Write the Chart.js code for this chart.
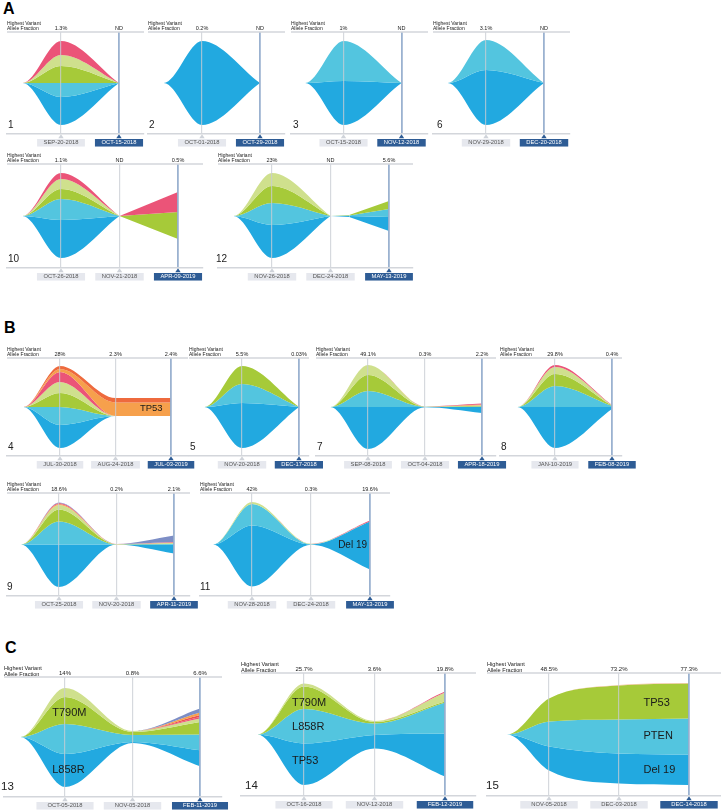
<!DOCTYPE html>
<html>
<head>
<meta charset="utf-8">
<title>Fish plots</title>
<script src="https://cdn.jsdelivr.net/npm/chart.js@4.4.1/dist/chart.umd.min.js"></script>
<style>
  html, body { margin:0; padding:0; background:#ffffff; }
  body { width:721px; height:811px; position:relative; overflow:hidden; font-family:'Liberation Sans', Arial, sans-serif; }
  canvas { position:absolute; }
  .sec { position:absolute; font-weight:bold; font-size:16px; line-height:16px; color:#000; }
</style>
</head>
<body>
<div class="sec" style="left:3px;top:1px">A</div>
<div class="sec" style="left:4px;top:320px">B</div>
<div class="sec" style="left:5px;top:640px">C</div>
<script>
const FONT = "'Liberation Sans', Arial, Helvetica, sans-serif";
Chart.defaults.font.family = FONT;

// clone colours
const BLUE = '#22a9e0', LBLUE = '#53c5df', GREEN = '#a6ca39', LGREEN = '#cfe08d',
      PINK = '#eb5478', ORANGE = '#f6a04c', DORANGE = '#ee6a3d', SLATE = '#7d8ec6',
      RED = '#ef4f4f', PEACH = '#f2b58a';

// ---------------- DATA ----------------
// x: sample index (0,1,2...), negative = before first sample (fish origin)
// edges: clone boundaries top -> bottom, offset from the fish midline
const P1_DATES = ['SEP-20-2018', 'OCT-15-2018'];
const P1_VAF = ['1.3%', 'ND'];
const P1_X = [[-0.95, -0.66, 0, 1]];
const P1_EDGES = [[[0,0,42,0],[0,0,28,0],[0,0,17,0],[0,0,0,0],[0,0,-14,0],[0,0,-42,0]]];
const P1_BANDS = [PINK, LGREEN, GREEN, LBLUE, BLUE];

const P2_DATES = ['OCT-01-2018', 'OCT-29-2018'];
const P2_VAF = ['0.2%', 'ND'];
const P2_X = [[-0.95, -0.66, 0, 1]];
const P2_EDGES = [[[0,0,42,0],[0,0,-42,0]]];
const P2_BANDS = [BLUE];

const P3_DATES = ['OCT-15-2018', 'NOV-12-2018'];
const P3_VAF = ['1%', 'ND'];
const P3_X = [[-0.95, -0.66, 0, 1]];
const P3_EDGES = [[[0,0,42,0],[0,0,2,0],[0,0,-42,0]]];
const P3_BANDS = [LBLUE, BLUE];

const P6_DATES = ['NOV-29-2018', 'DEC-20-2018'];
const P6_VAF = ['3.1%', 'ND'];
const P6_X = [[-0.95, -0.66, 0, 1]];
const P6_EDGES = [[[0,0,43,0],[0,0,13,0],[0,0,-42,0]]];
const P6_BANDS = [LBLUE, BLUE];

const P10_DATES = ['OCT-26-2018', 'NOV-21-2018', 'APR-09-2019'];
const P10_VAF = ['1.1%', 'ND', '0.5%'];
const P10_X = [[-0.95, -0.66, 0, 1], [1, 2]];
const P10_EDGES = [
  [[0,0,43,0],[0,0,37,0],[0,0,27,0],[0,0,17,0],[0,0,-4,0],[0,0,-42,0]],
  [[0,24],[0,4],[0,4],[0,-23],[0,-23],[0,-23]]
];
const P10_BANDS = [PINK, LGREEN, GREEN, LBLUE, BLUE];

const P12_DATES = ['NOV-26-2018', 'DEC-24-2018', 'MAY-13-2019'];
const P12_VAF = ['23%', 'ND', '5.6%'];
const P12_X = [[-0.95, -0.66, 0, 1], [1, 1.32], [1.32, 2]];
const P12_EDGES = [
  [[0,0,43,0],[0,0,30,0],[0,0,13,0],[0,0,-9,0],[0,0,-42,0]],
  [[0,1],[0,1],[0,0.5],[0,0],[0,-1]],
  [[1,15],[1,15],[0.5,7],[0,-1],[-1,-15]]
];
const P12_BANDS = [LGREEN, GREEN, LBLUE, BLUE];

const P4_DATES = ['JUL-30-2018', 'AUG-24-2018', 'JUL-03-2019'];
const P4_VAF = ['28%', '2.3%', '2.4%'];
const P4_X = [[-0.95, -0.66, 0, 1, 2]];
const P4_EDGES = [[[0,0,41,9,9],[0,0,38,4.5,4.5],[0,0,35,-9,-9],[0,0,25,-9,-9],[0,0,14,-9,-9],[0,0,0,-9,-9],[0,0,-18,-9,-9],[0,0,-41,-9,-9]]];
const P4_BANDS = [DORANGE, ORANGE, PINK, LGREEN, GREEN, LBLUE, BLUE];
const P4_LABELS = [['TP53', 1.44, -1]];

const P5_DATES = ['NOV-20-2018', 'DEC-17-2018'];
const P5_VAF = ['5.5%', '0.03%'];
const P5_X = [[-0.95, -0.66, 0, 1]];
const P5_EDGES = [[[0,0,41,0],[0,0,23,0],[0,0,4,0],[0,0,-41,0]]];
const P5_BANDS = [GREEN, LBLUE, BLUE];

const P7_DATES = ['SEP-08-2018', 'OCT-04-2018', 'APR-18-2019'];
const P7_VAF = ['49.1%', '0.3%', '2.2%'];
const P7_X = [[-0.95, -0.66, 0, 1, 2]];
const P7_EDGES = [[[0,0,42,0.6,3.5],[0,0,42,0.5,2.5],[0,0,42,0.4,1.8],[0,0,32,0.3,1.2],[0,0,16,0.2,0.6],[0,0,0,0,0],[0,0,-42,-0.3,-6]]];
const P7_BANDS = [PINK, ORANGE, LGREEN, GREEN, LBLUE, BLUE];

const P8_DATES = ['JAN-10-2019', 'FEB-08-2019'];
const P8_VAF = ['29.8%', '0.4%'];
const P8_X = [[-0.95, -0.66, 0, 1]];
const P8_EDGES = [[[0,0,42,2],[0,0,40,1.8],[0,0,33,1.5],[0,0,21,1],[0,0,0,0],[0,0,-41,-2]]];
const P8_BANDS = [PINK, LGREEN, GREEN, LBLUE, BLUE];

const P9_DATES = ['OCT-25-2018', 'NOV-20-2018', 'APR-11-2019'];
const P9_VAF = ['18.6%', '0.2%', '2.1%'];
const P9_X = [[-0.95, -0.66, 0, 1, 2]];
const P9_EDGES = [[[0,0,42,0.6,9],[0,0,41.5,0.5,2.5],[0,0,40.5,0.4,2],[0,0,39.5,0.3,1.5],[0,0,35,0.2,1],[0,0,23,0.1,0.5],[0,0,0,0,0],[0,0,-42.5,0,-9]]];
const P9_BANDS = [SLATE, PINK, ORANGE, LGREEN, GREEN, LBLUE, BLUE];

const P11_DATES = ['NOV-28-2018', 'DEC-24-2018', 'MAY-13-2019'];
const P11_VAF = ['42%', '0.3%', '19.6%'];
const P11_X = [[-0.95, -0.66, 0, 1, 2]];
const P11_EDGES = [[[0,0,42.5,0.8,24],[0,0,42.5,0.7,23],[0,0,40.5,0.3,23],[0,0,19,0,23],[0,0,-42,-0.3,-25]]];
const P11_BANDS = [PINK, LGREEN, LBLUE, BLUE];
const P11_LABELS = [['Del 19', 1.46, -1]];

const P13_DATES = ['OCT-05-2018', 'NOV-05-2018', 'FEB-11-2019'];
const P13_VAF = ['14%', '0.8%', '6.6%'];
const P13_X = [[-0.95, -0.66, 0, 1, 2]];
const P13_EDGES = [[[0,0,49,6,28.5],[0,0,49,6,24.5],[0,0,49,6,22],[0,0,49,6,20],[0,0,49,6,18.4],[0,0,40,5,15],[0,0,13,2,2.4],[0,0,-17,-5,-13.3],[0,0,-50,-6,-29.3]]];
const P13_BANDS = [SLATE, ORANGE, RED, PINK, LGREEN, GREEN, LBLUE, BLUE];
const P13_LABELS = [['T790M', -0.19, 24], ['L858R', -0.19, -33]];

const P14_DATES = ['OCT-16-2018', 'NOV-12-2018', 'FEB-12-2019'];
const P14_VAF = ['25.7%', '3.6%', '19.8%'];
const P14_X = [[-0.95, -0.66, 0, 1, 2]];
const P14_EDGES = [[[0,0,51,13.5,43],[0,0,51,13.5,42],[0,0,48,12.5,33],[0,0,25.5,11,32],[0,0,-9,-0.5,1],[0,0,-50.5,-14,-42]]];
const P14_BANDS = [PINK, LGREEN, GREEN, LBLUE, BLUE];
const P14_LABELS = [['T790M', -0.17, 31.5], ['L858R', -0.17, 7.5], ['TP53', -0.17, -26.5]];

const P15_DATES = ['NOV-05-2018', 'DEC-03-2018', 'DEC-14-2018'];
const P15_VAF = ['48.5%', '73.2%', '77.3%'];
const P15_X = [[-0.95, -0.6, 0, 1, 2]];
const P15_EDGES = [[[0,0,36,49.5,51.5],[0,0,36,49,51],[0,0,13,15,16],[0,0,-12,-19,-20],[0,0,-36,-49,-50.5]]];
const P15_BANDS = [PEACH, GREEN, LBLUE, BLUE];
const P15_LABELS = [['TP53', 1.35, 31.5], ['PTEN', 1.35, -1.5], ['Del 19', 1.35, -35.5]];

// ---------------- LAYOUT (page geometry, styles) ----------------
const SMALL = { hvF: 5, hv1: 8, hv2: 3, vafF: 5.5, vafOff: 3.4, dateF: 5.8, boxPad: 6.5, numF: 10, numOff: 6.3 };
const BIG   = { hvF: 5.6, hv1: 8.3, hv2: 2.8, vafF: 6, vafOff: 3.2, dateF: 5.8, boxPad: 11, numF: 11.5, numOff: 6.8 };

const PANELS = [
  { id:'1',  dates:P1_DATES,  vaf:P1_VAF,  xs:P1_X,  edges:P1_EDGES,  bands:P1_BANDS,  labels:[], L:7,   R:144, T:32,  B:134, v1:61,    sp:58,   st:SMALL, nx:1 },
  { id:'2',  dates:P2_DATES,  vaf:P2_VAF,  xs:P2_X,  edges:P2_EDGES,  bands:P2_BANDS,  labels:[], L:148, R:285, T:32,  B:134, v1:202,   sp:58,   st:SMALL, nx:1 },
  { id:'3',  dates:P3_DATES,  vaf:P3_VAF,  xs:P3_X,  edges:P3_EDGES,  bands:P3_BANDS,  labels:[], L:291, R:428, T:32,  B:134, v1:343.5, sp:58,   st:SMALL, nx:2 },
  { id:'6',  dates:P6_DATES,  vaf:P6_VAF,  xs:P6_X,  edges:P6_EDGES,  bands:P6_BANDS,  labels:[], L:433, R:570, T:32,  B:134, v1:486,   sp:58,   st:SMALL, nx:4 },
  { id:'10', dates:P10_DATES, vaf:P10_VAF, xs:P10_X, edges:P10_EDGES, bands:P10_BANDS, labels:[], L:7,   R:203, T:164, B:268, v1:61,    sp:58.5, st:SMALL, nx:1 },
  { id:'12', dates:P12_DATES, vaf:P12_VAF, xs:P12_X, edges:P12_EDGES, bands:P12_BANDS, labels:[], L:218, R:413, T:164, B:268, v1:272,   sp:58.5, st:SMALL, nx:-2 },
  { id:'4',  dates:P4_DATES,  vaf:P4_VAF,  xs:P4_X,  edges:P4_EDGES,  bands:P4_BANDS,  labels:P4_LABELS, labF:9.5, L:7, R:188, T:358, B:456, v1:60, sp:55.5, st:SMALL, nx:1 },
  { id:'5',  dates:P5_DATES,  vaf:P5_VAF,  xs:P5_X,  edges:P5_EDGES,  bands:P5_BANDS,  labels:[], L:189, R:309, T:358, B:456, v1:242,   sp:57,   st:SMALL, nx:1 },
  { id:'7',  dates:P7_DATES,  vaf:P7_VAF,  xs:P7_X,  edges:P7_EDGES,  bands:P7_BANDS,  labels:[], L:316, R:496, T:358, B:456, v1:368,   sp:57,   st:SMALL, nx:1 },
  { id:'8',  dates:P8_DATES,  vaf:P8_VAF,  xs:P8_X,  edges:P8_EDGES,  bands:P8_BANDS,  labels:[], L:500, R:622, T:358, B:456, v1:555,   sp:57,   st:SMALL, nx:1 },
  { id:'9',  dates:P9_DATES,  vaf:P9_VAF,  xs:P9_X,  edges:P9_EDGES,  bands:P9_BANDS,  labels:[], L:7,   R:190, T:493, B:596, v1:59,    sp:57.5, st:SMALL, nx:0 },
  { id:'11', dates:P11_DATES, vaf:P11_VAF, xs:P11_X, edges:P11_EDGES, bands:P11_BANDS, labels:P11_LABELS, labF:10, L:200, R:390, T:493, B:596, v1:252, sp:59, st:SMALL, nx:0 },
  { id:'13', dates:P13_DATES, vaf:P13_VAF, xs:P13_X, edges:P13_EDGES, bands:P13_BANDS, labels:P13_LABELS, labF:11, L:4,   R:222, T:677, B:797, v1:65,  sp:67.5, st:BIG, nx:-3 },
  { id:'14', dates:P14_DATES, vaf:P14_VAF, xs:P14_X, edges:P14_EDGES, bands:P14_BANDS, labels:P14_LABELS, labF:11, L:241, R:476, T:673, B:796, v1:304, sp:70.5, st:BIG, nx:4 },
  { id:'15', dates:P15_DATES, vaf:P15_VAF, xs:P15_X, edges:P15_EDGES, bands:P15_BANDS, labels:P15_LABELS, labF:11, L:487, R:721, T:673, B:796, v1:549, sp:70,   st:BIG, nx:-1 }
];

const AXISLINE = '#d3d6db', GRIDLINE = 'rgba(200,204,211,0.75)', LASTLINE = 'rgba(150,174,205,0.95)',
      LIGHTBOX = '#e6e8ee', DARKBOX = '#2e5c95', TRI = '#cfd3da';

function makeDecor(p) {
  const st = p.st;
  return {
    id: 'decor' + p.id,
    afterDraw(chart) {
      const { ctx, chartArea: a } = chart;
      const x = chart.scales.x, y = chart.scales.y;
      const n = p.dates.length;
      ctx.save();
      // top rule (VAF axis line)
      ctx.strokeStyle = AXISLINE;
      ctx.lineWidth = 1.5;
      ctx.beginPath();
      ctx.moveTo(a.left, a.top);
      ctx.lineTo(a.right, a.top);
      ctx.stroke();
      // sample markers on the time axis
      for (let i = 0; i < n; i++) {
        const px = x.getPixelForValue(i);
        ctx.fillStyle = i === n - 1 ? DARKBOX : TRI;
        ctx.beginPath();
        ctx.moveTo(px, a.bottom + 0.3);
        ctx.lineTo(px - 2.7, a.bottom + 4.3);
        ctx.lineTo(px + 2.7, a.bottom + 4.3);
        ctx.closePath();
        ctx.fill();
      }
      // VAF labels above each sample
      ctx.fillStyle = '#222';
      ctx.textAlign = 'center';
      ctx.textBaseline = 'middle';
      ctx.font = st.vafF + 'px ' + FONT;
      for (let i = 0; i < n; i++) {
        ctx.fillText(p.vaf[i], x.getPixelForValue(i), a.top - st.vafOff);
      }
      // header
      ctx.textAlign = 'left';
      ctx.font = st.hvF + 'px ' + FONT;
      ctx.fillText('Highest Variant', a.left, a.top - st.hv1);
      ctx.fillText('Allele Fraction', a.left, a.top - st.hv2);
      // panel number
      ctx.textBaseline = 'alphabetic';
      ctx.font = st.numF + 'px ' + FONT;
      ctx.fillText(p.id, a.left + p.nx, a.bottom - st.numOff);
      // clone labels
      if (p.labels.length) {
        ctx.font = p.labF + 'px ' + FONT;
        ctx.textBaseline = 'middle';
        ctx.fillStyle = '#1a1a1a';
        p.labels.forEach(([t, lx, ly]) => ctx.fillText(t, x.getPixelForValue(lx), y.getPixelForValue(ly)));
      }
      ctx.restore();
    }
  };
}

function makePanel(p) {
  const st = p.st;
  const padL = 14, padR = 14, topH = 22, botH = 18;
  const w = p.R - p.L + padL + padR;
  const h = p.B - p.T + topH + botH;
  const cv = document.createElement('canvas');
  cv.width = w; cv.height = h;
  cv.style.left = (p.L - padL) + 'px';
  cv.style.top = (p.T - topH) + 'px';
  cv.style.width = w + 'px';
  cv.style.height = h + 'px';
  document.body.appendChild(cv);
  const half = (p.B - p.T) / 2;
  const n = p.dates.length;
  const datasets = [];
  p.xs.forEach((xs, s) => {
    p.edges[s].forEach((edge, k) => {
      datasets.push({
        data: xs.map((xv, j) => ({ x: xv, y: edge[j] })),
        fill: k === 0 ? false : '-1',
        backgroundColor: k === 0 ? 'rgba(0,0,0,0)' : p.bands[k - 1],
        borderWidth: 0,
        pointRadius: 0,
        cubicInterpolationMode: 'monotone'
      });
    });
  });
  const xmin = (p.L - p.v1) / p.sp, xmax = (p.R - p.v1) / p.sp;
  new Chart(cv, {
    type: 'line',
    data: { datasets },
    options: {
      responsive: false, animation: false, devicePixelRatio: 1, events: [],
      layout: { padding: { left: padL, right: padR, top: topH, bottom: 0 } },
      plugins: { legend: { display: false }, tooltip: { enabled: false } },
      scales: {
        x: {
          type: 'linear', position: 'bottom', min: xmin, max: xmax, bounds: 'data',
          afterBuildTicks: s => { s.ticks = p.dates.map((d, i) => ({ value: i })); },
          afterFit: s => { s.height = botH; },
          grid: {
            drawTicks: false, z: 1,
            color: c => c.index === n - 1 ? LASTLINE : GRIDLINE,
            lineWidth: c => c.index === n - 1 ? 1.8 : 1.2
          },
          border: { color: AXISLINE, width: 1.5, z: 1 },
          ticks: {
            autoSkip: false, maxRotation: 0, minRotation: 0, padding: 5, z: 1,
            font: { size: st.dateF, lineHeight: 1.3 },
            color: c => c.index === n - 1 ? '#ffffff' : '#555555',
            showLabelBackdrop: true,
            backdropColor: c => c.index === n - 1 ? DARKBOX : LIGHTBOX,
            backdropPadding: { top: 0, bottom: 0, left: st.boxPad, right: st.boxPad },
            callback: v => p.dates[Math.round(v)]
          }
        },
        y: { display: false, min: -half, max: half }
      }
    },
    plugins: [makeDecor(p)]
  });
}

PANELS.forEach(makePanel);
</script>
</body>
</html>
